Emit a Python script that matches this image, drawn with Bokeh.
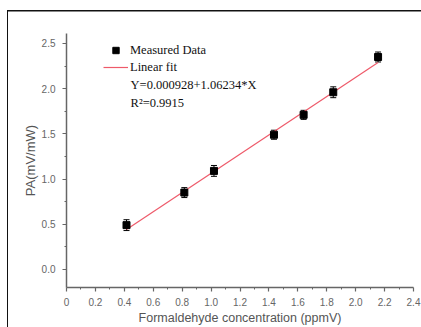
from bokeh.plotting import figure
from bokeh.models import (ColumnDataSource, Whisker, TeeHead, FixedTicker, Legend,
                          LegendItem, Label, Range1d)
from bokeh.embed import file_html
from bokeh.resources import INLINE

# ---- data ----
conc = [0.415, 0.815, 1.02, 1.435, 1.64, 1.845, 2.155]
pa = [0.49, 0.85, 1.09, 1.49, 1.71, 1.96, 2.35]
pa_err = [0.06, 0.055, 0.06, 0.05, 0.05, 0.06, 0.055]
fit_x = [0.415, 2.155]
fit_y = [0.4418, 2.2903]
x_ticks = [0, 0.2, 0.4, 0.6, 0.8, 1.0, 1.2, 1.4, 1.6, 1.8, 2.0, 2.2, 2.4]
x_tick_labels = ["0", "0.2", "0.4", "0.6", "0.8", "1.0", "1.2", "1.4", "1.6", "1.8", "2.0", "2.2", "2.4"]
y_ticks = [0.0, 0.5, 1.0, 1.5, 2.0, 2.5]
y_tick_labels = ["0.0", "0.5", "1.0", "1.5", "2.0", "2.5"]
legend_labels = ["Measured Data", "Linear fit"]
eq_lines = ["Y=0.000928+1.06234*X", "R\u00b2=0.9915"]
x_title = "Formaldehyde concentration (ppmV)"
y_title = "PA(mV/mW)"

p = figure(width=421, height=327, output_backend="svg", toolbar_location=None,
           x_range=Range1d(0, 2.4), y_range=Range1d(-0.2, 2.61),
           min_border_left=66, min_border_right=8, min_border_top=33, min_border_bottom=39)
p.outline_line_color = None
p.grid.visible = False
p.background_fill_color = "white"
p.border_fill_color = None
# outer panel edges (top and left) drawn as the figure's own background
p.styles = {
    "background-color": "white",
    "background-image": "linear-gradient(#111, #111), linear-gradient(#111, #111)",
    "background-position": "7px 10px, 7px 10px",
    "background-size": "414px 1.5px, 1.2px 317px",
    "background-repeat": "no-repeat",
}

src = ColumnDataSource(dict(x=conc, y=pa,
                            lo=[v - e for v, e in zip(pa, pa_err)],
                            hi=[v + e for v, e in zip(pa, pa_err)]))

fit = p.line(fit_x, fit_y, line_color="#ee5a6a", line_width=1.2)
w = Whisker(base="x", upper="hi", lower="lo", source=src, line_color="black", line_width=1,
            upper_head=TeeHead(size=6, line_color="black", line_width=1),
            lower_head=TeeHead(size=6, line_color="black", line_width=1))
p.add_layout(w)
pts = p.scatter("x", "y", source=src, marker="square", size=7, fill_color="black",
                line_color="black")

axis_color = "#666666"
label_color = "#666666"
for ax in (p.xaxis[0], p.yaxis[0]):
    ax.axis_line_color = axis_color
    ax.axis_line_width = 1.5
    ax.major_tick_line_color = axis_color
    ax.minor_tick_line_color = axis_color
    ax.major_tick_line_width = 1.2
    ax.minor_tick_line_width = 1
    ax.major_tick_out = 4
    ax.major_tick_in = 0
    ax.minor_tick_out = 2
    ax.minor_tick_in = 0
    ax.major_label_text_color = label_color
    ax.major_label_text_font = "Liberation Sans"
    ax.major_label_text_font_size = "10px"
    ax.axis_label_text_color = "#555555"
    ax.axis_label_text_font = "Liberation Sans"
    ax.axis_label_text_font_style = "normal"

p.xaxis.ticker = FixedTicker(ticks=x_ticks, minor_ticks=[0.1 + 0.2 * i for i in range(12)])
p.xaxis.major_label_overrides = {t: l for t, l in zip(x_ticks, x_tick_labels)}
p.xaxis.axis_label = x_title
p.xaxis.axis_label_text_font_size = "12.5px"
p.xaxis.major_label_standoff = 6
p.xaxis.axis_label_standoff = 2

p.yaxis.ticker = FixedTicker(ticks=y_ticks, minor_ticks=[0.25, 0.75, 1.25, 1.75, 2.25])
p.yaxis.major_label_overrides = {t: l for t, l in zip(y_ticks, y_tick_labels)}
p.yaxis.axis_label = y_title
p.yaxis.axis_label_text_font_size = "13px"
p.yaxis.major_label_standoff = 7
p.yaxis.axis_label_standoff = 1

legend = Legend(items=[LegendItem(label=legend_labels[0], renderers=[pts]),
                       LegendItem(label=legend_labels[1], renderers=[fit])],
                location=(37, 212), border_line_color=None, background_fill_alpha=0,
                padding=0, margin=0, spacing=1, glyph_width=25, glyph_height=16,
                label_height=16, label_standoff=2,
                label_text_font="Liberation Serif", label_text_font_size="12.5px",
                label_text_color="#111111")
p.add_layout(legend)

for txt, yv in zip(eq_lines, [2.044, 1.846]):
    p.add_layout(Label(x=0.443, y=yv, text=txt, text_baseline="middle",
                       text_font="Liberation Serif", text_font_size="12.5px",
                       text_color="#111111"))

open("out.html", "w").write(file_html(p, INLINE))
